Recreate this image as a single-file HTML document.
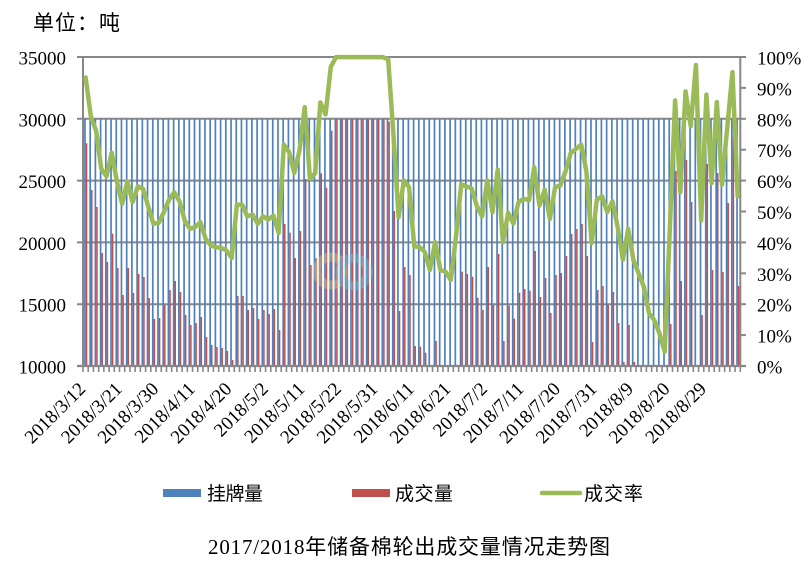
<!DOCTYPE html>
<html><head><meta charset="utf-8">
<style>
html,body{margin:0;padding:0;background:#fff;}
svg{display:block;}
.lat{font-family:"Liberation Serif","Noto Sans CJK SC",serif;fill:#000;}
.cjk{font-family:"Liberation Sans","Noto Sans CJK SC",sans-serif;fill:#000;}
</style></head><body>
<svg id="c" width="801" height="566" xmlns="http://www.w3.org/2000/svg">
<rect width="801" height="566" fill="#fff"/>
<g id="grid"></g>
<g id="bars"></g>
<g id="axes"></g>
<g id="wm" opacity="0.3">
  <circle cx="331" cy="271" r="14" fill="none" stroke="#f3e9a0" stroke-width="9"/>
  <circle cx="354" cy="272" r="14" fill="none" stroke="#7fe0f0" stroke-width="9"/>
</g>
<g id="line"></g>
<g id="labels"></g>
<text class="cjk" x="33" y="30" font-size="21" textLength="87" lengthAdjust="spacing">单位：吨</text>
<rect x="163" y="489" width="38" height="8" fill="#4F81BD"/>
<text class="cjk" x="207" y="500" font-size="19" textLength="56" lengthAdjust="spacing">挂牌量</text>
<rect x="352" y="489" width="38" height="8" fill="#C0504D"/>
<text class="cjk" x="395" y="500" font-size="19" textLength="58" lengthAdjust="spacing">成交量</text>
<line x1="542" y1="493" x2="580" y2="493" stroke="#9BBB59" stroke-width="4.5" stroke-linecap="round"/>
<text class="cjk" x="584" y="500" font-size="19" textLength="59" lengthAdjust="spacing">成交率</text>
<text class="lat" x="208" y="554" font-size="21" textLength="402" lengthAdjust="spacing">2017/2018年储备棉轮出成交量情况走势图</text>
</svg>
<script>
(function(){
var NS="http://www.w3.org/2000/svg";
function el(tag,a,p,t){var e=document.createElementNS(NS,tag);for(var k in a)e.setAttribute(k,a[k]);if(t!==undefined)e.textContent=t;p.appendChild(e);return e;}
var grid=document.getElementById('grid'),bars=document.getElementById('bars'),axes=document.getElementById('axes'),line=document.getElementById('line'),labels=document.getElementById('labels');
var X0=83,X1=740.3,N=126,W=(X1-X0)/N,YB=366,YT=57,GS=61.8;
var GC="#878787";
for(var k=0;k<=5;k++){
  var y=YB-k*GS;
  el('line',{x1:77,y1:y,x2:X1,y2:y,stroke:GC,'stroke-width':2},grid);
  el('text',{x:66,y:y+7.5,'font-size':19,'text-anchor':'end','class':'lat'},labels,String(10000+k*5000));
}
for(var k=0;k<=10;k++){
  var y=YB-k*30.9;
  el('line',{x1:X1,y1:y,x2:746,y2:y,stroke:GC,'stroke-width':2},axes);
  el('text',{x:757,y:y+7.5,'font-size':19,'class':'lat'},labels,(k*10)+'%');
}
el('line',{x1:X0,y1:YT-1,x2:X0,y2:YB+1,stroke:GC,'stroke-width':2},axes);
el('line',{x1:X1,y1:YT-1,x2:X1,y2:YB+1,stroke:GC,'stroke-width':2},axes);
el('line',{x1:77,y1:YB,x2:746,y2:YB,stroke:GC,'stroke-width':2.2},axes);
for(var i=0;i<=N;i++){
  var x=X0+i*W;
  el('line',{x1:x,y1:YB,x2:x,y2:YB+6,stroke:GC,'stroke-width':1.6},axes);
}
var R=[280,420,471,609,636,551,654,735,654,729,
672,681,744,807,804,765,720,693,726,795,
825,819,801,861,885,891,894,903,930,738,
738,780,774,807,780,792,777,840,522,548,
624,543,387,645,625,370,413,242,207,207,
207,207,207,207,207,207,207,207,215,483,
783,651,675,888,890,908,null,873,null,null,
null,null,665,672,680,743,780,651,765,612,
873,767,806,728,717,722,603,741,684,789,
675,669,618,552,537,522,618,876,720,708,
765,726,819,936,825,936,null,null,null,null,
null,null,822,363,693,330,456,null,795,342,
660,369,666,459,261,708];
var G={66:660,68:660,69:665,70:690,71:560,106:670,107:710,108:790,109:810,110:850,111:905,117:45};
var pts=[];
var blueTop=YB-4*GS;
for(var i=0;i<N;i++){
  var L=X0+i*W;
  el('rect',{x:(L+1.1).toFixed(2),y:blueTop,width:1.7,height:(YB-blueTop).toFixed(2),fill:'#4F81BD'},bars);
  var gy;
  if(R[i]!==null&&R[i]!==undefined){
    var yr=50+R[i]/3;
    if(yr<blueTop)yr=blueTop;
    el('rect',{x:(L+2.8).toFixed(2),y:yr.toFixed(2),width:1.5,height:(YB-yr).toFixed(2),fill:'#C0504D'},bars);
    var v=10000+(YB-yr)*5000/GS;
    var p=v/30000; if(p>1)p=1;
    gy=YB-p*309;
  } else {
    gy=50+G[i]/3;
  }
  pts.push((L+W/2).toFixed(2)+','+gy.toFixed(2));
}
el('polyline',{points:pts.join(' '),fill:'none',stroke:'#9BBB59','stroke-width':4.5,'stroke-linejoin':'round','stroke-linecap':'round'},line);
var D={0:'2018/3/12',7:'2018/3/21',14:'2018/3/30',21:'2018/4/11',28:'2018/4/20',35:'2018/5/2',42:'2018/5/11',49:'2018/5/22',56:'2018/5/31',63:'2018/6/11',70:'2018/6/21',77:'2018/7/2',84:'2018/7/11',91:'2018/7/20',98:'2018/7/31',105:'2018/8/9',112:'2018/8/20',119:'2018/8/29'};
for(var key in D){
  var i=+key;
  var ax=X0+(i+0.5)*W+1, ay=390;
  el('text',{x:ax.toFixed(2),y:ay,'font-size':19,'text-anchor':'end','class':'lat',transform:'rotate(-45 '+ax.toFixed(2)+' '+ay+')'},labels,D[key]);
}
})();
</script>
</body></html>
